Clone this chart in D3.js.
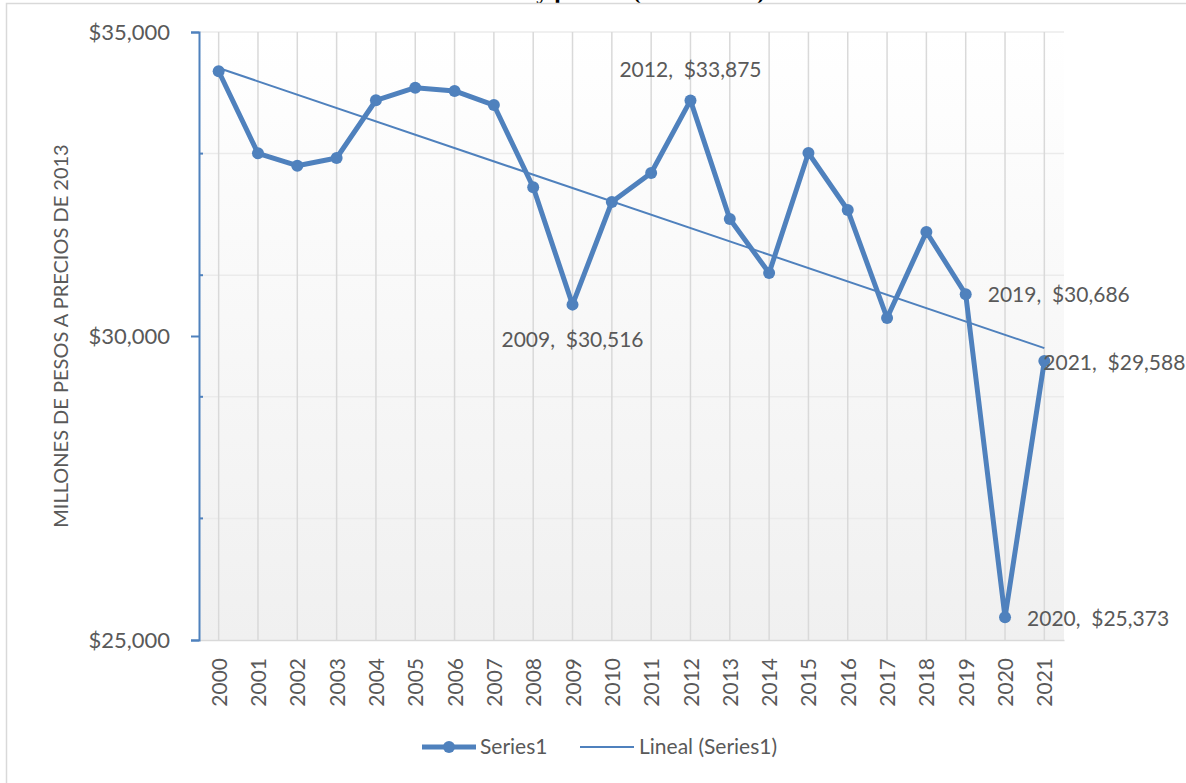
<!DOCTYPE html>
<html>
<head>
<meta charset="utf-8">
<script src="https://cdn.jsdelivr.net/npm/d3@7"></script>
<style>
  body { margin: 0; background: #fff; }
  svg text { font-family: Lato, "Open Sans", sans-serif; fill: #595959; }
</style>
</head>
<body>
<div id="zone"></div>
<script>
(function() {
  "use strict";

  // années (catégories de l'axe X)
  var years = [2000, 2001, 2002, 2003, 2004, 2005, 2006, 2007, 2008, 2009, 2010,
               2011, 2012, 2013, 2014, 2015, 2016, 2017, 2018, 2019, 2020, 2021];

  // Series1 : millones de pesos a precios de 2013
  var values = [34354, 33005, 32801, 32928, 33877, 34084, 34030, 33799, 32446, 30516, 32204,
                32681, 33875, 31924, 31036, 33010, 32072, 30296, 31711, 30686, 25373, 29588];

  // graduations de l'axe Y
  var yMajorTicks = [25000, 30000, 35000];
  var yMinorTicks = [27000, 29000, 31000, 33000];

  // années qui ont une étiquette de données
  var labelYears = [2009, 2012, 2019, 2020, 2021];

  var legendItems = ["Series1", "Lineal (Series1)"];
  var titleText = "Producción y precios (2000 - 2021)";
  var yTitle = "MILLONES DE PESOS A PRECIOS DE 2013";

  var width = 1186, height = 783;
  var blue = "#4f81bd";
  var left = 199, right = 1064, top = 32, bottom = 640;

  var svg = d3.select("#zone").append("svg")
    .attr("width", width)
    .attr("height", height);

  // dégradé du fond de la zone de traçage
  var grad = svg.append("defs").append("linearGradient")
    .attr("id", "plotBg").attr("x1", 0).attr("y1", 0).attr("x2", 0).attr("y2", 1);
  grad.append("stop").attr("offset", "0%").attr("stop-color", "#ffffff");
  grad.append("stop").attr("offset", "100%").attr("stop-color", "#f0f0f0");

  // titre (presque hors de l'image, comme sur l'original)
  svg.append("text")
    .attr("x", 765).attr("y", -1)
    .attr("text-anchor", "end")
    .style("font-family", "'Liberation Serif', serif")
    .style("font-weight", "bold")
    .style("font-size", "24px")
    .style("fill", "#000")
    .text(titleText);

  // cadre du graphique
  svg.append("rect")
    .attr("x", 6.5).attr("y", 3.5)
    .attr("width", 1300).attr("height", 900)
    .attr("fill", "none").attr("stroke", "#d9d9d9").attr("stroke-width", 1.5);

  var x = d3.scalePoint().domain(years).range([left, right]).padding(0.5);
  var y = d3.scaleLinear().domain([25000, 35000]).range([bottom, top]);

  svg.append("rect")
    .attr("x", left).attr("y", top)
    .attr("width", right - left).attr("height", bottom - top)
    .attr("fill", "url(#plotBg)");

  // quadrillage horizontal
  svg.append("g").selectAll("line")
    .data(yMinorTicks.concat([35000]))
    .join("line")
    .attr("x1", left).attr("x2", right)
    .attr("y1", function(d) { return y(d); })
    .attr("y2", function(d) { return y(d); })
    .attr("stroke", "#ebebeb").attr("stroke-width", 1.5);

  // quadrillage vertical
  svg.append("g").selectAll("line")
    .data(years)
    .join("line")
    .attr("x1", function(d) { return x(d); })
    .attr("x2", function(d) { return x(d); })
    .attr("y1", top).attr("y2", bottom)
    .attr("stroke", "#d9d9d9").attr("stroke-width", 1.5);

  // axe X
  var xAxis = svg.append("g")
    .attr("transform", "translate(0," + bottom + ")")
    .call(d3.axisBottom(x).tickSize(0).tickPadding(0));
  xAxis.select(".domain").attr("stroke", "#d9d9d9").attr("stroke-width", 1.5);
  xAxis.selectAll("text")
    .attr("transform", "rotate(-90)")
    .attr("x", -18).attr("y", 0)
    .attr("dx", 0).attr("dy", "0.36em")
    .attr("text-anchor", "end")
    .style("font-size", "21px")
    .style("font-family", "Lato, sans-serif")
    .attr("fill", "#595959");

  // axe Y
  var yAxis = svg.append("g")
    .attr("transform", "translate(" + left + ",0)")
    .call(d3.axisLeft(y).tickValues(yMajorTicks).tickSize(8).tickPadding(21)
      .tickFormat(function(d) { return "$" + d3.format(",")(d); }));
  yAxis.select(".domain").attr("stroke", blue).attr("stroke-width", 2);
  yAxis.selectAll(".tick line").attr("stroke", blue).attr("stroke-width", 2);
  yAxis.selectAll("text")
    .style("font-size", "22px")
    .style("font-family", "Lato, sans-serif")
    .attr("fill", "#595959");

  svg.append("g").selectAll("line")
    .data(yMinorTicks)
    .join("line")
    .attr("x1", left).attr("x2", left + 4)
    .attr("y1", function(d) { return y(d); })
    .attr("y2", function(d) { return y(d); })
    .attr("stroke", blue).attr("stroke-width", 2);

  // titre de l'axe Y
  svg.append("text")
    .attr("transform", "translate(68," + ((top + bottom) / 2) + ") rotate(-90)")
    .attr("text-anchor", "middle")
    .style("font-size", "20px")
    .text(yTitle);

  // ligne de tendance (régression linéaire comme Excel)
  var n = values.length;
  var sx = 0, sy = 0, sxy = 0, sxx = 0;
  values.forEach(function(v, i) { sx += i; sy += v; sxy += i * v; sxx += i * i; });
  var slope = (n * sxy - sx * sy) / (n * sxx - sx * sx);
  var intercept = (sy - slope * sx) / n;
  var trend = [0, n - 1].map(function(i) { return [years[i], intercept + slope * i]; });

  svg.append("path")
    .datum(trend)
    .attr("fill", "none").attr("stroke", blue).attr("stroke-width", 2)
    .attr("d", d3.line().x(function(d) { return x(d[0]); }).y(function(d) { return y(d[1]); }));

  // série
  var series = years.map(function(yr, i) { return { year: yr, value: values[i] }; });

  svg.append("path")
    .datum(series)
    .attr("fill", "none").attr("stroke", blue).attr("stroke-width", 5)
    .attr("stroke-linejoin", "round")
    .attr("d", d3.line().x(function(d) { return x(d.year); }).y(function(d) { return y(d.value); }));

  svg.append("g").selectAll("circle")
    .data(series)
    .join("circle")
    .attr("cx", function(d) { return x(d.year); })
    .attr("cy", function(d) { return y(d.value); })
    .attr("r", 6)
    .attr("fill", blue);

  // étiquettes de données
  var labelPlace = {
    2009: { dx: 0, dy: 42, anchor: "middle" },
    2012: { dx: 0, dy: -23, anchor: "middle" },
    2019: { dx: 22, dy: 8, anchor: "start" },
    2020: { dx: 22, dy: 9, anchor: "start" },
    2021: { dx: -1, dy: 9, anchor: "start" }
  };

  svg.append("g").selectAll("text")
    .data(series.filter(function(d) { return labelYears.indexOf(d.year) >= 0; }))
    .join("text")
    .attr("x", function(d) { return x(d.year) + labelPlace[d.year].dx; })
    .attr("y", function(d) { return y(d.value) + labelPlace[d.year].dy; })
    .attr("text-anchor", function(d) { return labelPlace[d.year].anchor; })
    .style("font-size", "21px")
    .style("white-space", "pre")
    .text(function(d) { return d.year + ",  $" + d3.format(",")(d.value); });

  // légende
  var legend = svg.append("g");
  var ly = 747;
  legend.append("line")
    .attr("x1", 422).attr("x2", 476).attr("y1", ly).attr("y2", ly)
    .attr("stroke", blue).attr("stroke-width", 5);
  legend.append("circle").attr("cx", 449).attr("cy", ly).attr("r", 6).attr("fill", blue);
  legend.append("text").attr("x", 480).attr("y", ly).attr("dy", "0.35em")
    .style("font-size", "21px").text(legendItems[0]);
  legend.append("line")
    .attr("x1", 580).attr("x2", 634).attr("y1", ly).attr("y2", ly)
    .attr("stroke", blue).attr("stroke-width", 2);
  legend.append("text").attr("x", 639).attr("y", ly).attr("dy", "0.35em")
    .style("font-size", "21px").text(legendItems[1]);

})();
</script>
</body>
</html>
